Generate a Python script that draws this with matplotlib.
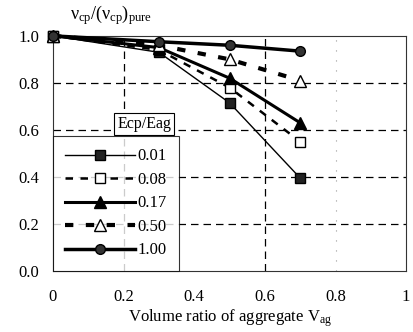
import matplotlib
matplotlib.use('Agg')
import matplotlib.pyplot as plt

plt.rcParams['font.family'] = ['Liberation Serif', 'DejaVu Serif']
plt.rcParams['mathtext.fontset'] = 'custom'
plt.rcParams['mathtext.rm'] = 'Liberation Serif'
plt.rcParams['mathtext.it'] = 'Liberation Serif'

# volume ratio of aggregate
vag = [0, 0.3, 0.5, 0.7]
ratios = ['0.01', '0.08', '0.17', '0.50', '1.00']
v_001 = [1.0, 0.93, 0.715, 0.395]
v_008 = [1.0, 0.94, 0.78, 0.55]
v_017 = [1.0, 0.95, 0.82, 0.63]
v_050 = [1.0, 0.96, 0.90, 0.81]
v_100 = [1.0, 0.975, 0.96, 0.935]
xticks = [0, 0.2, 0.4, 0.6, 0.8, 1.0]
xticklabels = ['0', '0.2', '0.4', '0.6', '0.8', '1']
yticks = [0.0, 0.2, 0.4, 0.6, 0.8, 1.0]

fig = plt.figure(figsize=(4.14, 3.32), dpi=100)
ax = fig.add_axes([0.128, 0.184, 0.853, 0.708])

# grid
for y in [0.2, 0.4, 0.6, 0.8]:
    ax.axhline(y, color='black', lw=0.9, ls=(0, (6, 4)), zorder=1)
for x in [0.2, 0.6]:
    ax.axvline(x, color='black', lw=0.9, ls=(0, (6, 4)), zorder=1)
ax.axvline(0.8, color='#999999', lw=0.8, ls=(0, (1, 8)), zorder=1)

kw = dict(color='black', mec='black', clip_on=False, zorder=3)
ax.plot(vag, v_001, lw=1.0, marker='s', ms=7, mfc='#222222', label=ratios[0], **kw)
ax.plot(vag, v_008, lw=1.8, ls=(0, (3, 3)), marker='s', ms=7, mfc='white', label=ratios[1], **kw)
ax.plot(vag, v_017, lw=2.2, marker='^', ms=8, mfc='black', label=ratios[2], **kw)
ax.plot(vag, v_050, lw=3.0, ls=(0, (2, 3)), marker='^', ms=9, mfc='white', label=ratios[3], **kw)
ax.plot(vag, v_100, lw=2.5, marker='o', ms=7, mfc='#333333', label=ratios[4], **kw)

ax.set_xlim(0, 1)
ax.set_ylim(0, 1)
ax.set_xticks(xticks)
ax.set_xticklabels(xticklabels)
ax.set_yticks(yticks)
ax.set_yticklabels(['%.1f' % t for t in yticks])
ax.tick_params(axis='x', length=0, pad=13, labelsize=12)
ax.tick_params(axis='y', length=0, pad=10, labelsize=12)
for s in ax.spines.values():
    s.set_linewidth(0.8)
    s.set_color('#333333')

ax.set_xlabel(r'Volume ratio of aggregate V$_{\rm ag}$', fontsize=12, labelpad=2)
fig.text(0.168, 0.955, r'$\nu_{\rm cp}/(\nu_{\rm cp})_{\rm pure}$', fontsize=13, ha='left', va='center')

leg = ax.legend(loc='lower left', bbox_to_anchor=(0.0, 0.0), fontsize=12, handlelength=4.2,
                handletextpad=0.1, labelspacing=0.45, borderpad=0.75, frameon=True,
                fancybox=False, borderaxespad=0.0)
leg.get_frame().set_edgecolor('black')
leg.get_frame().set_linewidth(0.8)
ax.text(0.258, 0.625, 'Ecp/Eag', fontsize=11.5, ha='center', va='center', transform=ax.transAxes,
        bbox=dict(boxstyle='square,pad=0.2', fc='white', ec='black', lw=0.8), zorder=5)

fig.savefig('out.png', dpi=100)
